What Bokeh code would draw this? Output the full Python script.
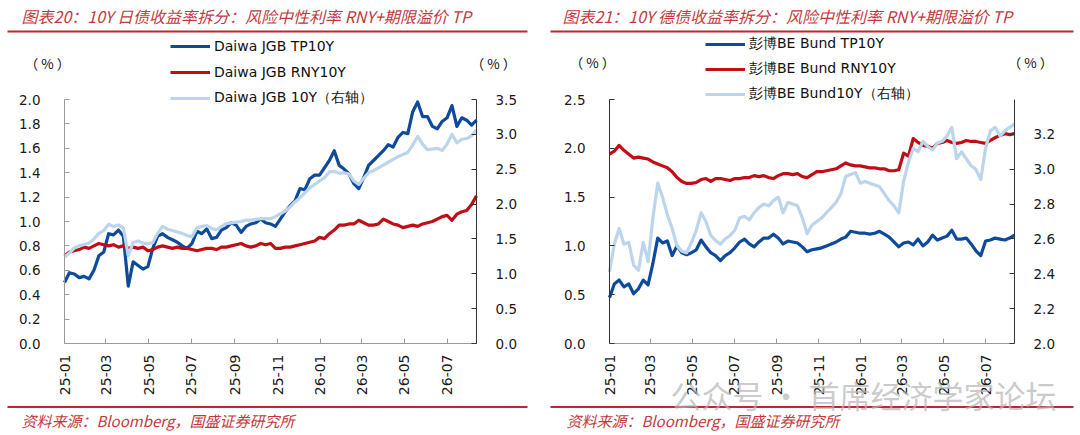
import pandas as pd
from bokeh.plotting import figure
from bokeh.models import (Range1d, LinearAxis, FixedTicker,
                          Label, BoxAnnotation, Legend, LegendItem, ColumnDataSource,
                          SingleIntervalTicker, NumeralTickFormatter)
from bokeh.layouts import row
from bokeh.embed import file_html
from bokeh.resources import INLINE

# ---------------- data ----------------
dates = pd.date_range("2025-01-01", periods=85, freq="7D")
tick_dates = pd.to_datetime(["2025-01-01", "2025-03-01", "2025-05-01", "2025-07-01", "2025-09-01",
                             "2025-11-01", "2026-01-01", "2026-03-01", "2026-05-01", "2026-07-01"])
tick_labels = ["25-01", "25-03", "25-05", "25-07", "25-09", "25-11", "26-01", "26-03", "26-05", "26-07"]

jgb_tp = [0.50, 0.58, 0.57, 0.54, 0.55, 0.53, 0.60, 0.72, 0.75, 0.90, 0.89, 0.93, 0.88, 0.47, 0.67,
          0.64, 0.61, 0.63, 0.78, 0.88, 0.90, 0.87, 0.85, 0.83, 0.80, 0.78, 0.82, 0.92, 0.90, 0.94,
          0.86, 0.87, 0.93, 0.95, 0.99, 0.97, 0.91, 0.96, 0.98, 0.99, 1.02, 0.99, 0.98, 0.96, 1.02,
          1.08, 1.13, 1.17, 1.27, 1.26, 1.35, 1.38, 1.38, 1.44, 1.50, 1.58, 1.46, 1.43, 1.39, 1.31,
          1.27, 1.36, 1.46, 1.50, 1.54, 1.58, 1.63, 1.61, 1.69, 1.73, 1.72, 1.90, 1.98, 1.86, 1.86,
          1.78, 1.76, 1.82, 1.85, 1.95, 1.78, 1.85, 1.83, 1.79, 1.83]
jgb_rny = [0.72, 0.75, 0.76, 0.77, 0.79, 0.78, 0.80, 0.82, 0.81, 0.80, 0.81, 0.79, 0.80, 0.78, 0.79,
           0.78, 0.79, 0.76, 0.77, 0.79, 0.80, 0.79, 0.78, 0.79, 0.78, 0.78, 0.77, 0.76, 0.77, 0.78,
           0.78, 0.77, 0.79, 0.79, 0.80, 0.81, 0.82, 0.80, 0.79, 0.80, 0.82, 0.81, 0.82, 0.78, 0.78,
           0.79, 0.79, 0.80, 0.81, 0.82, 0.83, 0.84, 0.87, 0.86, 0.90, 0.93, 0.97, 0.97, 0.98, 0.98,
           1.01, 0.99, 0.97, 0.97, 0.98, 1.02, 1.00, 0.98, 0.97, 0.95, 0.96, 0.97, 0.96, 0.98, 0.99,
           1.00, 1.02, 1.04, 1.05, 1.01, 1.06, 1.08, 1.09, 1.14, 1.21]
jgb_10y = [1.24, 1.30, 1.37, 1.40, 1.42, 1.44, 1.50, 1.58, 1.62, 1.71, 1.68, 1.70, 1.66, 1.26, 1.45,
           1.47, 1.44, 1.43, 1.45, 1.58, 1.68, 1.64, 1.62, 1.60, 1.58, 1.55, 1.53, 1.66, 1.68, 1.69,
           1.65, 1.63, 1.68, 1.72, 1.73, 1.74, 1.75, 1.77, 1.77, 1.78, 1.79, 1.79, 1.79, 1.82, 1.86,
           1.90, 1.96, 2.03, 2.09, 2.16, 2.23, 2.28, 2.33, 2.38, 2.46, 2.47, 2.44, 2.45, 2.43, 2.33,
           2.28, 2.37, 2.45, 2.48, 2.52, 2.56, 2.60, 2.64, 2.68, 2.71, 2.74, 2.85, 2.97, 2.86, 2.78,
           2.79, 2.80, 2.77, 2.86, 3.00, 2.88, 2.93, 2.94, 2.98, 3.06]

bund_tp = [0.47, 0.61, 0.65, 0.58, 0.61, 0.51, 0.56, 0.65, 0.60, 0.82, 1.08, 1.03, 1.05, 0.90, 1.00,
           0.93, 0.91, 0.93, 0.96, 1.06, 0.99, 0.93, 0.90, 0.85, 0.90, 0.93, 0.98, 1.04, 1.07, 1.02,
           0.99, 1.04, 1.08, 1.08, 1.12, 1.08, 1.02, 1.05, 1.04, 1.03, 0.99, 0.94, 0.96, 0.97, 0.98,
           1.00, 1.02, 1.04, 1.07, 1.09, 1.15, 1.14, 1.13, 1.13, 1.12, 1.13, 1.15, 1.12, 1.09, 1.04,
           0.99, 1.03, 1.04, 1.01, 1.07, 1.00, 1.04, 1.11, 1.06, 1.08, 1.10, 1.16, 1.07, 1.07, 1.08,
           1.02, 0.95, 0.90, 1.05, 1.06, 1.08, 1.07, 1.06, 1.08, 1.11]
bund_rny = [1.94, 1.97, 2.03, 1.98, 1.94, 1.90, 1.91, 1.90, 1.89, 1.86, 1.84, 1.82, 1.80, 1.76, 1.70,
            1.66, 1.64, 1.64, 1.65, 1.68, 1.69, 1.66, 1.69, 1.69, 1.68, 1.67, 1.69, 1.69, 1.70, 1.70,
            1.72, 1.71, 1.72, 1.70, 1.69, 1.72, 1.74, 1.74, 1.73, 1.74, 1.71, 1.70, 1.73, 1.76, 1.76,
            1.77, 1.78, 1.79, 1.82, 1.85, 1.83, 1.82, 1.82, 1.81, 1.80, 1.80, 1.79, 1.79, 1.77, 1.77,
            1.78, 1.95, 1.92, 2.10, 2.06, 2.03, 2.02, 2.00, 2.05, 2.06, 2.08, 2.06, 2.05, 2.06, 2.08,
            2.07, 2.07, 2.06, 2.05, 2.08, 2.11, 2.13, 2.15, 2.14, 2.15]
bund_10y = [2.41, 2.57, 2.66, 2.57, 2.58, 2.45, 2.42, 2.58, 2.47, 2.72, 2.92, 2.84, 2.74, 2.66, 2.56,
            2.53, 2.52, 2.58, 2.65, 2.75, 2.70, 2.62, 2.59, 2.57, 2.60, 2.62, 2.65, 2.72, 2.73, 2.71,
            2.75, 2.78, 2.80, 2.79, 2.82, 2.84, 2.75, 2.81, 2.80, 2.79, 2.72, 2.63, 2.68, 2.70, 2.72,
            2.75, 2.78, 2.81, 2.86, 2.96, 2.97, 2.98, 2.92, 2.93, 2.92, 2.91, 2.90, 2.86, 2.82, 2.79,
            2.75, 2.93, 3.04, 3.12, 3.10, 3.16, 3.13, 3.11, 3.15, 3.16, 3.19, 3.24, 3.06, 3.10, 3.06,
            3.02, 3.00, 2.94, 3.12, 3.22, 3.24, 3.19, 3.22, 3.24, 3.26]

# ---------------- style ----------------
C_TP = "#0e4a9c"
C_RNY = "#c00d16"
C_10Y = "#bcd5ec"
RED = "#c0272d"
TXT_RED = "#c23a40"
FONT = "DejaVu Sans"
CJK = "Noto Sans CJK SC"

W, H = 540, 435
x_start = pd.Timestamp("2025-01-01")
x_end = pd.Timestamp("2026-08-12")
Y_TOP, Y_BOT = 99, 343          # pixel rows of the axes' top and bottom


def ms(ts):
    return ts.value // 10**6


def style_axis(ax, line_color, standoff, size="13.5px"):
    ax.axis_line_color = line_color
    ax.axis_line_width = 1
    ax.major_tick_line_color = line_color
    ax.major_tick_in = 5
    ax.major_tick_out = 0
    ax.minor_tick_line_color = None
    ax.major_label_text_font = FONT
    ax.major_label_text_font_size = size
    ax.major_label_text_color = "#1a1a1a"
    ax.major_label_standoff = standoff


def make_panel(title, names, s1, s2, s3, yl, yr, il, ir, ax_l, ax_r, leftc,
               leg_x, leg_top, leg_gap, title_x, src_x, rule, pct_l, pct_r, pct_y):
    # ranges chosen so that the frame covers the whole canvas
    dpp = (x_end - x_start).days / (ax_r - ax_l)
    xr = Range1d(x_start - pd.Timedelta(days=ax_l * dpp),
                 x_end + pd.Timedelta(days=(W - ax_r) * dpp))
    pl = (Y_BOT - Y_TOP) / (yl[1] - yl[0])
    pr = (Y_BOT - Y_TOP) / (yr[1] - yr[0])
    ylr = Range1d(yl[0] - (H - Y_BOT) / pl, yl[1] + Y_TOP / pl)
    yrr = Range1d(yr[0] - (H - Y_BOT) / pr, yr[1] + Y_TOP / pr)

    p = figure(width=W, height=H, x_range=xr, y_range=ylr,
               x_axis_location=None, y_axis_location=None,
               output_backend="svg", toolbar_location=None,
               min_border=0, min_border_left=0, min_border_right=0,
               min_border_top=0, min_border_bottom=0)
    p.extra_y_ranges = {"r": yrr, "py": Range1d(H, 0)}
    p.extra_x_ranges = {"px": Range1d(0, W)}
    p.outline_line_color = None
    p.grid.visible = False
    p.background_fill_color = "white"
    p.border_fill_color = "white"

    la = LinearAxis(fixed_location=ms(x_start), bounds=yl,
                    ticker=SingleIntervalTicker(interval=il),
                    formatter=NumeralTickFormatter(format="0.0"))
    style_axis(la, leftc, 20)
    p.add_layout(la, "left")

    ra = LinearAxis(y_range_name="r", fixed_location=ms(x_end), bounds=yr,
                    ticker=SingleIntervalTicker(interval=ir),
                    formatter=NumeralTickFormatter(format="0.0"))
    style_axis(ra, "#333333", 15)
    p.add_layout(ra, "right")

    xa = LinearAxis(fixed_location=yl[0], bounds=(ms(x_start), ms(x_end)),
                    ticker=FixedTicker(ticks=[ms(t) for t in tick_dates]))
    style_axis(xa, "#9a9a9a", 11, "14px")
    xa.major_label_overrides = {int(ms(t)): lab for t, lab in zip(tick_dates, tick_labels)}
    xa.major_label_orientation = 3.14159265 / 2
    p.add_layout(xa, "below")

    src = ColumnDataSource(dict(date=dates, a=s1, b=s2, c=s3))
    r1 = p.line("date", "a", source=src, line_width=3.2, color=C_TP, line_join="round")
    r2 = p.line("date", "b", source=src, line_width=3.2, color=C_RNY, line_join="round")
    r3 = p.line("date", "c", source=src, line_width=3.2, color=C_10Y, line_join="round",
                y_range_name="r")

    leg_h = 3 * 20 + 2 * leg_gap
    leg = Legend(items=[LegendItem(label=names[0], renderers=[r1]),
                        LegendItem(label=names[1], renderers=[r2]),
                        LegendItem(label=names[2], renderers=[r3])],
                 location=(leg_x, H - leg_top - leg_h), orientation="vertical")
    leg.label_text_font = FONT
    leg.label_text_font_size = "14px"
    leg.label_text_color = "#111111"
    leg.glyph_width = 40
    leg.glyph_height = 20
    leg.label_height = 20
    leg.label_standoff = 4
    leg.spacing = leg_gap
    leg.padding = 0
    leg.margin = 0
    leg.border_line_color = None
    leg.background_fill_alpha = 0
    p.add_layout(leg)

    def lab(x, y, text, size, color, italic=False, align="left"):
        p.add_layout(Label(x=x, y=y, x_range_name="px", y_range_name="py", text=text,
                           text_font=CJK, text_font_size=size,
                           text_font_style="italic" if italic else "normal",
                           text_color=color, text_baseline="middle", text_align=align))

    lab(title_x, 15, title, "16px", TXT_RED, italic=True)
    lab(src_x, 420, "资料来源：Bloomberg，国盛证券研究所", "15px", TXT_RED, italic=True)
    lab(pct_l, pct_y, "（ % ）", "13.5px", "#111111", align="center")
    lab(pct_r, pct_y, "（ % ）", "13.5px", "#111111", align="center")
    for yy in (31, 406.5):
        p.add_layout(BoxAnnotation(left=rule[0], right=rule[1], top=yy - 1, bottom=yy + 1,
                                   x_range_name="px", y_range_name="py",
                                   fill_color=RED, fill_alpha=1, line_color=None))
    return p


p1 = make_panel("图表20：10Y 日债收益率拆分：风险中性利率 RNY+期限溢价 TP",
                ["Daiwa JGB TP10Y", "Daiwa JGB RNY10Y", "Daiwa JGB 10Y（右轴）"],
                jgb_tp, jgb_rny, jgb_10y, (0, 2.0), (0, 3.5), 0.2, 0.5,
                64, 476, "#9a9a9a", 170, 36, 6, 21, 21, (7, 527), 47, 493, 62)
p2 = make_panel("图表21：10Y 德债收益率拆分：风险中性利率 RNY+期限溢价 TP",
                ["彭博BE Bund TP10Y", "彭博BE Bund RNY10Y", "彭博BE Bund10Y（右轴）"],
                bund_tp, bund_rny, bund_10y, (0, 2.5), (2.0, 3.4), 0.5, 0.2,
                69, 474, "#333333", 165, 34, 5, 22, 26, (10, 533), 52, 490, 61)

p2.add_layout(Label(x=323, y=394, x_range_name="px", y_range_name="py",
                    text="公众号 · 首席经济学家论坛", text_font=CJK, text_font_size="31px",
                    text_color="#b4b4b4", text_alpha=0.7, text_baseline="middle", text_align="center"))

layout = row(p1, p2, spacing=0)
open("out.html", "w").write(file_html(layout, INLINE))
